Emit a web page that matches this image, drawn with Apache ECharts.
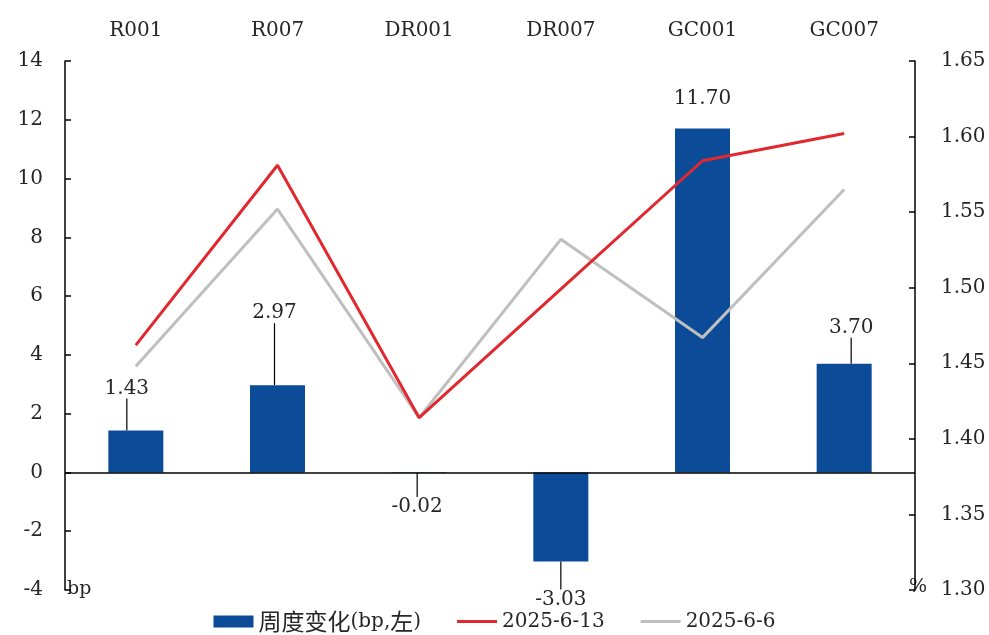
<!DOCTYPE html>
<html>
<head>
<meta charset="utf-8">
<script src="https://cdn.jsdelivr.net/npm/echarts@6/dist/echarts.min.js"></script>
<style>
  html, body { margin: 0; padding: 0; background: #fff; }
  #chart { width: 989px; height: 635px; }
</style>
</head>
<body>
<div id="chart"></div>
<script>
// Money-market rates: weekly change (bp) and levels on two dates (%)
const categories = ['R001', 'R007', 'DR001', 'DR007', 'GC001', 'GC007'];
const weeklyChange = [1.43, 2.97, -0.02, -3.03, 11.70, 3.70];
const rate0613 = [1.462, 1.581, 1.414, 1.499, 1.584, 1.602];
const rate0606 = [1.448, 1.552, 1.414, 1.532, 1.467, 1.565];
const leftTicks = { min: -4, max: 14, interval: 2 };
const rightTicks = { min: 1.30, max: 1.65, interval: 0.05 };
const seriesNames = ['周度变化(bp,左)', '2025-6-13', '2025-6-6'];

// label offsets (px) for the bar value labels, pulled away from the bars with leader lines
const labelShift = [[-9, -26], [-3, -56], [-2, 18], [0, 22], [0, -14], [7, -20]];
const showLeader = [true, true, true, true, false, true];

const FONT = "'DejaVu Serif', 'Liberation Serif', serif";
const CJK = "'Noto Sans CJK SC', sans-serif";
const TEXT = '#262626';
const LINE_ICON = 'path://M0,0H40V3H0Z';

// wrap CJK characters in a rich-text style so they get their own size
function legendText(name) {
  return name.replace(/([\u4e00-\u9fff]+)/g, '}{cn|$1}{lat|').replace(/^/, '{lat|') + '}';
}

const chart = echarts.init(document.getElementById('chart'), null, { renderer: 'canvas' });

chart.setOption({
  animation: false,
  backgroundColor: '#fff',
  grid: { left: 65, right: 74, top: 61, bottom: 45, containLabel: false },
  legend: {
    top: 605,
    left: 'center',
    itemGap: 36,
    itemWidth: 40,
    itemHeight: 12,
    symbolKeepAspect: true,
    formatter: legendText,
    textStyle: {
      fontFamily: FONT, fontSize: 20, color: TEXT,
      rich: {
        lat: { fontFamily: FONT, fontSize: 20, color: TEXT, verticalAlign: 'middle' },
        cn: { fontFamily: CJK, fontSize: 23, color: TEXT, verticalAlign: 'middle' }
      }
    },
    data: [
      { name: seriesNames[0], icon: 'rect' },
      { name: seriesNames[1], icon: LINE_ICON },
      { name: seriesNames[2], icon: LINE_ICON }
    ]
  },
  xAxis: {
    type: 'category',
    data: categories,
    position: 'top',
    axisLine: { show: false },
    axisTick: { show: false },
    axisLabel: { fontFamily: FONT, fontSize: 20, color: TEXT, margin: 20 }
  },
  yAxis: [
    {
      type: 'value',
      min: leftTicks.min, max: leftTicks.max, interval: leftTicks.interval,
      splitLine: { show: false },
      axisLine: { show: true, lineStyle: { color: '#000', width: 1.5 } },
      axisTick: { show: true, inside: true, length: 6, lineStyle: { color: '#000', width: 1.5 } },
      axisLabel: { fontFamily: FONT, fontSize: 20, color: TEXT, margin: 22 }
    },
    {
      type: 'value',
      min: rightTicks.min, max: rightTicks.max, interval: rightTicks.interval,
      position: 'right',
      splitLine: { show: false },
      axisLine: { show: true, lineStyle: { color: '#000', width: 1.5 } },
      axisTick: { show: true, inside: true, length: 6, lineStyle: { color: '#000', width: 1.5 } },
      axisLabel: { fontFamily: FONT, fontSize: 20, color: TEXT, margin: 26,
        formatter: v => v.toFixed(2) }
    }
  ],
  graphic: [
    { type: 'text', left: 67, top: 580, style: { text: 'bp', font: "19px 'DejaVu Serif', serif", fill: TEXT } },
    { type: 'text', left: 909, top: 578, style: { text: '%', font: "19px 'DejaVu Serif', serif", fill: TEXT } }
  ],
  series: [
    {
      name: seriesNames[0],
      type: 'bar',
      yAxisIndex: 0,
      barWidth: 55,
      itemStyle: { color: '#0b4b98' },
      data: weeklyChange.map((v, i) => ({
        value: v,
        label: { position: v < 0 ? 'bottom' : 'top' },
        labelLine: { show: showLeader[i] }
      })),
      label: {
        show: true,
        fontFamily: FONT,
        fontSize: 20,
        color: TEXT,
        distance: 6,
        formatter: p => p.value.toFixed(2)
      },
      labelLine: { show: true, lineStyle: { color: '#000', width: 1.2 }, smooth: false },
      labelLayout: p => ({ dx: labelShift[p.dataIndex][0], dy: labelShift[p.dataIndex][1] }),
      markLine: {
        silent: true,
        symbol: 'none',
        label: { show: false },
        lineStyle: { color: '#000', type: 'solid', width: 1.5 },
        data: [{ yAxis: 0 }]
      },
      z: 2
    },
    {
      name: seriesNames[1],
      type: 'line',
      yAxisIndex: 1,
      data: rate0613,
      symbol: 'none',
      lineStyle: { color: '#e0282e', width: 3 },
      itemStyle: { color: '#e0282e' },
      z: 4
    },
    {
      name: seriesNames[2],
      type: 'line',
      yAxisIndex: 1,
      data: rate0606,
      symbol: 'none',
      lineStyle: { color: '#bfbfbf', width: 3 },
      itemStyle: { color: '#bfbfbf' },
      z: 3
    }
  ]
});
</script>
</body>
</html>
